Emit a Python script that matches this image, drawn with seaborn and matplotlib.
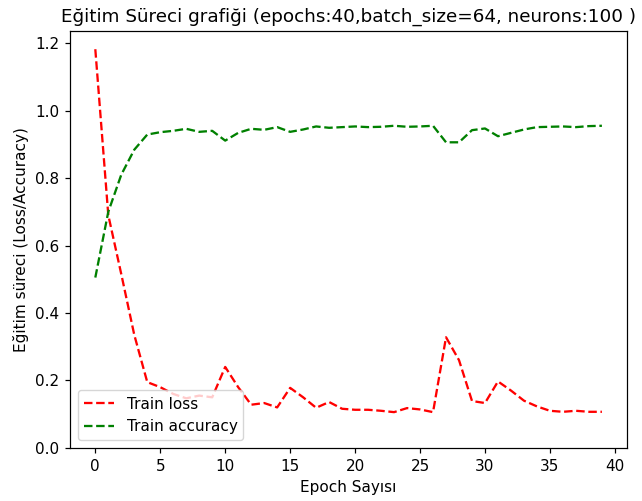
import matplotlib
matplotlib.use("Agg")
import matplotlib.pyplot as plt
import seaborn as sns
import pandas as pd

epochs = list(range(40))
train_loss = [1.182, 0.69, 0.515, 0.335, 0.195, 0.18, 0.16, 0.147, 0.155, 0.15,
              0.24, 0.18, 0.128, 0.133, 0.12, 0.178, 0.15, 0.119, 0.136, 0.116,
              0.113, 0.113, 0.110, 0.106, 0.118, 0.114, 0.106, 0.328, 0.26, 0.139,
              0.133, 0.197, 0.17, 0.14, 0.123, 0.11, 0.107, 0.11, 0.107, 0.107]
train_acc = [0.505, 0.70, 0.81, 0.884, 0.929, 0.936, 0.94, 0.946, 0.937, 0.94,
             0.911, 0.934, 0.946, 0.943, 0.951, 0.937, 0.944, 0.953, 0.949, 0.951,
             0.953, 0.951, 0.952, 0.955, 0.952, 0.953, 0.955, 0.906, 0.906, 0.942,
             0.947, 0.924, 0.934, 0.944, 0.951, 0.952, 0.953, 0.951, 0.954, 0.955]

df = pd.DataFrame({"epoch": epochs, "loss": train_loss, "acc": train_acc})

s = 1.1
plt.rcParams.update({
    "font.size": 10 * s,
    "lines.linewidth": 1.5 * s,
    "axes.linewidth": 0.8 * s,
    "xtick.major.size": 3.5 * s,
    "ytick.major.size": 3.5 * s,
    "xtick.major.width": 0.8 * s,
    "ytick.major.width": 0.8 * s,
    "xtick.major.pad": 3.5 * s,
    "ytick.major.pad": 3.5 * s,
    "axes.titlepad": 6.0 * s,
    "axes.labelpad": 4.0 * s,
})

fig = plt.figure(figsize=(6.42, 5.01), dpi=100)
ax = fig.add_subplot(111)
fig.subplots_adjust(left=0.109, right=0.977, top=0.938, bottom=0.106)

sns.lineplot(data=df, x="epoch", y="loss", ax=ax, color="red", linestyle="--", label="Train loss")
sns.lineplot(data=df, x="epoch", y="acc", ax=ax, color="green", linestyle="--", label="Train accuracy")
ax.set_ylim(bottom=0)
ax.set_title("Eğitim Süreci grafiği (epochs:40,batch_size=64, neurons:100 )")
ax.set_xlabel("Epoch Sayısı")
ax.set_ylabel("Eğitim süreci (Loss/Accuracy)")
ax.legend(loc="lower left")

fig.savefig("out.png", dpi=100)
